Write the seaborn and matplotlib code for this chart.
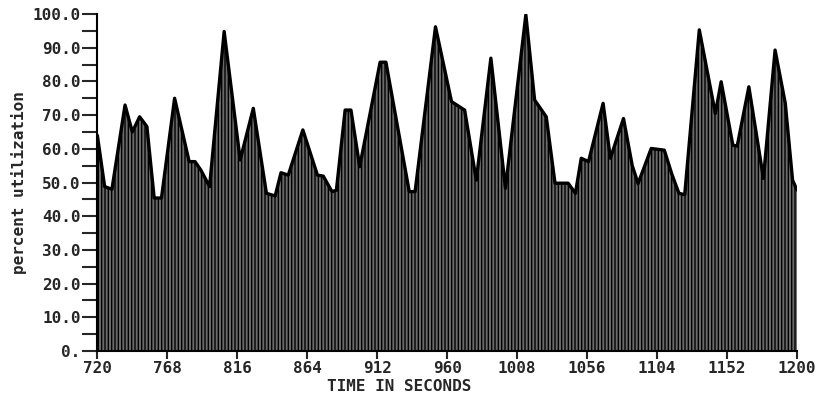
import numpy as np
import pandas as pd
import matplotlib.pyplot as plt
import seaborn as sns

sns.set_theme(style="ticks")
plt.rcParams["font.family"] = ["DejaVu Sans Mono", "DejaVu Sans"]
plt.rcParams["font.weight"] = "bold"
plt.rcParams["hatch.linewidth"] = 1.0
plt.rcParams["hatch.color"] = "black"

# ── data ────────────────────────────────────────────────────
time_s = [720, 725, 730, 739, 744, 749, 754, 759, 764, 773, 783, 787, 791, 797,
          807, 818, 827, 836, 842, 846, 851, 861, 871, 875, 881, 884, 890, 894,
          900, 914, 918, 934, 938, 952, 963, 972, 980, 990, 1000, 1014, 1020,
          1028, 1034, 1043, 1048, 1052, 1057, 1067, 1072, 1081, 1087, 1091,
          1100, 1109, 1114, 1119, 1123, 1133, 1144, 1148, 1156, 1159, 1167,
          1177, 1185, 1192, 1197, 1200]
util = [64, 48.8, 48, 73, 65, 69.5, 66.6, 45.4, 45.4, 75, 56.2, 56.2, 53.7, 48.8,
        94.8, 56.7, 72, 46.8, 46, 52.9, 52.2, 65.6, 52.2, 51.9, 47.3, 47.7, 71.5, 71.5,
        54.7, 85.7, 85.7, 47.3, 47.3, 96.2, 74, 71.5, 50.7, 86.9, 48.3, 99.8, 74.5,
        69.5, 49.8, 49.8, 46.8, 57.2, 56.2, 73.5, 57.2, 69, 55, 49.7,
        60.1, 59.6, 52.7, 46.8, 46.4, 95.3, 70.5, 79.9, 61.1, 60.8, 78.4,
        51.2, 89.3, 73.5, 50.7, 47.8]
x_ticks = [720, 768, 816, 864, 912, 960, 1008, 1056, 1104, 1152, 1200]
y_ticks = [0, 10, 20, 30, 40, 50, 60, 70, 80, 90, 100]
y_labels = ["0."] + [f"{v:.1f}" for v in y_ticks[1:]]

df = pd.DataFrame({"time": time_s, "util": util})

fig = plt.figure(figsize=(8.25, 3.96), dpi=100)
ax = fig.add_axes([0.118, 0.1136, 0.848, 0.851])

ax.fill_between(df["time"], 0, df["util"], facecolor="#6a6a6a",
                edgecolor="black", hatch="|||||", linewidth=0)
sns.lineplot(data=df, x="time", y="util", ax=ax, color="black", lw=2.4)

ax.set_xlim(720, 1200)
ax.set_ylim(0, 100)
ax.set_xticks(x_ticks)
ax.set_xticklabels([str(v) for v in x_ticks])
ax.set_yticks(y_ticks)
ax.set_yticklabels(y_labels)
ax.set_yticks(np.arange(5, 100, 10), minor=True)

ax.tick_params(axis="y", which="both", length=11, width=1.5, pad=1,
               labelsize=11.5, direction="out")
ax.tick_params(axis="x", length=6, width=1.5, pad=1, labelsize=11.5,
               direction="out")
for lab in ax.get_xticklabels() + ax.get_yticklabels():
    lab.set_fontweight("bold")

sns.despine(ax=ax)
for sp in ("left", "bottom"):
    ax.spines[sp].set_linewidth(1.5)
    ax.spines[sp].set_color("black")

ax.set_xlabel("TIME IN SECONDS", fontsize=11.5, fontweight="bold")
ax.xaxis.set_label_coords(0.432, -0.083)
ax.set_ylabel("percent utilization", fontsize=11.5, fontweight="bold")
ax.yaxis.set_label_coords(-0.1, 0.5)

fig.savefig("out.png", dpi=100)
